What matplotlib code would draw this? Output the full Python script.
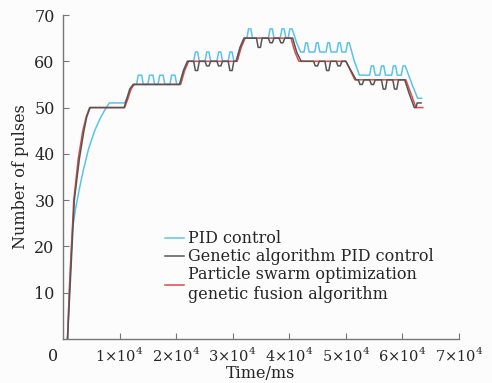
import matplotlib
matplotlib.use("Agg")
import matplotlib.pyplot as plt

plt.rcParams['font.family'] = ['DejaVu Serif']
plt.rcParams['mathtext.fontset'] = 'custom'
plt.rcParams['mathtext.rm'] = 'DejaVu Serif'

# PID control (time in ms, pulses)
pid_t = [800, 1100, 1400, 1700, 2200, 2900, 3600, 4500, 5600, 6500, 7400, 8200,
         10900, 11700, 12400,
         13000, 13300, 13900, 14200,
         15000, 15300, 15900, 16200,
         16800, 17100, 17700, 18000,
         18900, 19200, 19800, 20100,
         20600, 21300, 22000,
         23100, 23400, 23800, 24100,
         25100, 25400, 25800, 26100,
         27200, 27500, 27900, 28200,
         29200, 29500, 29900, 30200,
         30600, 31300, 32000,
         32500, 32800, 33200, 33500,
         36300, 36600, 37000, 37300,
         38400, 38700, 39100, 39400,
         39800, 40100, 40500, 41300, 42000,
         42600, 42900, 43200, 43500,
         44500, 44800, 45100, 45400,
         46500, 46800, 47100, 47400,
         48400, 48700, 49000, 49300,
         50000, 50300, 50600, 51500, 52400,
         54200, 54500, 54900, 55200,
         56000, 56300, 56700, 57000,
         58100, 58400, 58800, 59100,
         59800, 60100, 60500, 61700, 62700, 63400]
pid_v = [0, 10, 18, 24, 28, 32.5, 36.5, 41, 45, 47.5, 49.5, 51,
         51, 53, 55,
         55, 57, 57, 55,
         55, 57, 57, 55,
         55, 57, 57, 55,
         55, 57, 57, 55,
         55, 58, 60,
         60, 62, 62, 60,
         60, 62, 62, 60,
         60, 62, 62, 60,
         60, 62, 62, 60,
         60, 63, 65,
         65, 67, 67, 65,
         65, 67, 67, 65,
         65, 67, 67, 65,
         65, 67, 67, 64, 62,
         62, 64, 64, 62,
         62, 64, 64, 62,
         62, 64, 64, 62,
         62, 64, 64, 62,
         62, 64, 64, 60, 57,
         57, 59, 59, 57,
         57, 59, 59, 57,
         57, 59, 59, 57,
         57, 59, 59, 55, 52, 52]

# Genetic algorithm PID control
ga_t = [800, 1200, 1600, 2000, 2900, 3700, 4200, 4800,
        10800, 11300, 11800, 12400,
        20600, 21300, 22000,
        23100, 23400, 23800, 24100,
        25100, 25400, 25800, 26100,
        27200, 27500, 27900, 28200,
        29200, 29500, 29900, 30200,
        30600, 31300, 32000,
        34200, 34500, 34900, 35200,
        36300, 36600, 37000, 37300,
        38200, 38500, 38900, 39200,
        40600, 41300, 42100,
        44300, 44600, 45000, 45300,
        46300, 46600, 47000, 47300,
        48300, 48600, 49000, 49300,
        50000, 50900, 51800,
        52200, 52500, 52900, 53200,
        54200, 54500, 54900, 55200,
        56300, 56600, 57000, 57300,
        58300, 58600, 59000, 59300,
        60400, 61200, 62100, 62400, 62600, 63000, 63300]
ga_v = [0, 10, 20, 30, 39, 45, 48, 50,
        50, 52, 54, 55,
        55, 58, 60,
        60, 58, 58, 60,
        60, 59, 59, 60,
        60, 59, 59, 60,
        60, 58, 58, 60,
        60, 63, 65,
        65, 63, 63, 65,
        65, 64, 64, 65,
        65, 64, 64, 65,
        65, 62, 60,
        60, 59, 59, 60,
        60, 58, 58, 60,
        60, 59, 59, 60,
        60, 58, 56,
        56, 55, 55, 56,
        56, 55, 55, 56,
        56, 54, 54, 56,
        56, 54, 54, 56,
        56, 53, 50, 50, 51, 51, 51]

# Particle swarm optimization genetic fusion algorithm
pso_t = [800, 1100, 1500, 1900, 2700, 3500, 4100, 4700,
         10900, 11500, 12000, 12600,
         20800, 21500, 22200,
         30800, 31500, 32200,
         40300, 41000, 41700,
         50000, 50800, 51600,
         60600, 61500, 62400, 63600]
pso_v = [0, 10, 20, 30, 39, 45, 48, 50,
         50, 52, 54, 55,
         55, 58, 60,
         60, 63, 65,
         65, 62, 60,
         60, 58, 56,
         56, 53, 50, 50]

labels = ['PID control', 'Genetic algorithm PID control',
          'Particle swarm optimization\ngenetic fusion algorithm']
xticks = [10000, 20000, 30000, 40000, 50000, 60000, 70000]
xtick_labels = [r'1×10$^{4}$', r'2×10$^{4}$', r'3×10$^{4}$', r'4×10$^{4}$',
                r'5×10$^{4}$', r'6×10$^{4}$', r'7×10$^{4}$']
yticks = [10, 20, 30, 40, 50, 60, 70]

FS = 11.5
TC = '#262626'

fig = plt.figure(figsize=(4.92, 3.83), dpi=100, facecolor='#fcfcfc')
ax = fig.add_axes([63/492, 44/383, 396/492, 324/383])
ax.set_facecolor('#fcfcfc')

l1, = ax.plot(pid_t, pid_v, color='#5bc3ea', lw=1.1, zorder=2)
l3, = ax.plot(pso_t, pso_v, color='#e04a48', lw=1.1, zorder=3)
l2, = ax.plot(ga_t, ga_v, color='#555555', lw=1.1, zorder=4)

ax.set_xlim(0, 70000)
ax.set_ylim(0, 70)
ax.set_xticks(xticks)
ax.set_xticklabels(xtick_labels)
ax.set_yticks(yticks)
for s in ['top', 'right']:
    ax.spines[s].set_visible(False)
for s in ['left', 'bottom']:
    ax.spines[s].set_color('#777777')
    ax.spines[s].set_linewidth(1.0)
ax.tick_params(direction='in', length=4, color='#777777', labelcolor=TC)
ax.tick_params(axis='x', pad=5, labelsize=10.5)
ax.tick_params(axis='y', pad=6, labelsize=FS)
ax.text(-1700, -2.0, '0', ha='center', va='top', fontsize=FS, color=TC)

ax.set_xlabel('Time/ms', fontsize=FS, color=TC, labelpad=1)
ax.set_ylabel('Number of pulses', fontsize=FS, color=TC, labelpad=4)

leg = ax.legend([l1, l2, l3], labels, loc='upper left',
                bbox_to_anchor=(0.258, 0.335), frameon=False, fontsize=FS,
                handlelength=1.2, handletextpad=0.25, labelspacing=0.05,
                borderpad=0, borderaxespad=0)
for t in leg.get_texts():
    t.set_color(TC)

fig.savefig('out.png', dpi=100, facecolor=fig.get_facecolor())
